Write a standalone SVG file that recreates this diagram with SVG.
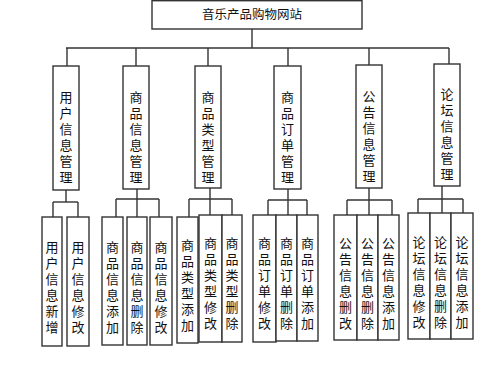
<svg xmlns="http://www.w3.org/2000/svg" width="500" height="381" viewBox="0 0 500 381">
<style>
rect{fill:#fff;stroke:#333;stroke-width:1.4}
.c line{stroke:#333;stroke-width:1.4}
text{font-family:"Noto Sans CJK SC","Noto Sans",sans-serif;font-size:13px;fill:#111}
.t{text-anchor:middle;font-size:12.5px}
.v{writing-mode:tb;letter-spacing:3px}
</style>
<rect x="0" y="0" width="500" height="381" style="stroke:none"/>
<g class="c" id="connectors">
<line x1="252" y1="29" x2="252" y2="48"/>
<line x1="66" y1="48" x2="449" y2="48"/>
<line x1="67" y1="48" x2="67" y2="66"/>
<line x1="136" y1="48" x2="136" y2="66"/>
<line x1="208" y1="48" x2="208" y2="66"/>
<line x1="288" y1="48" x2="288" y2="66"/>
<line x1="369" y1="48" x2="369" y2="65"/>
<line x1="449" y1="48" x2="449" y2="64"/>
<line x1="66" y1="190" x2="66" y2="202"/>
<line x1="53" y1="202" x2="78" y2="202"/>
<line x1="53" y1="202" x2="53" y2="217"/>
<line x1="78" y1="202" x2="78" y2="217"/>
<line x1="137" y1="189" x2="137" y2="217"/>
<line x1="116" y1="199" x2="159" y2="199"/>
<line x1="116" y1="199" x2="116" y2="217"/>
<line x1="159" y1="199" x2="159" y2="217"/>
<line x1="210" y1="188" x2="210" y2="215"/>
<line x1="189" y1="199" x2="232" y2="199"/>
<line x1="189" y1="199" x2="189" y2="217"/>
<line x1="232" y1="199" x2="232" y2="215"/>
<line x1="288" y1="189" x2="288" y2="215"/>
<line x1="268" y1="200" x2="307" y2="200"/>
<line x1="268" y1="200" x2="268" y2="215"/>
<line x1="307" y1="200" x2="307" y2="215"/>
<line x1="369" y1="188" x2="369" y2="215"/>
<line x1="347" y1="200" x2="392" y2="200"/>
<line x1="347" y1="200" x2="347" y2="215"/>
<line x1="392" y1="200" x2="392" y2="215"/>
<line x1="442" y1="186" x2="442" y2="213"/>
<line x1="418" y1="199" x2="463" y2="199"/>
<line x1="418" y1="199" x2="418" y2="213"/>
<line x1="463" y1="199" x2="463" y2="213"/>
</g>
<g id="root"><rect x="152" y="0.7" width="210" height="28.3"/><text class="t" x="252" y="19">音乐产品购物网站</text></g>
<g id="m1"><rect x="53" y="66" width="26" height="124"/><text class="v" x="66" y="90.5">用户信息管理</text></g>
<g id="m2"><rect x="123" y="66" width="26" height="123"/><text class="v" x="136" y="90.5">商品信息管理</text></g>
<g id="m3"><rect x="195" y="66" width="26" height="122"/><text class="v" x="208" y="90.5">商品类型管理</text></g>
<g id="m4"><rect x="274" y="66" width="27" height="123"/><text class="v" x="287.5" y="90.5">商品订单管理</text></g>
<g id="m5"><rect x="356" y="65" width="26" height="123"/><text class="v" x="369" y="89.5">公告信息管理</text></g>
<g id="m6"><rect x="434" y="64" width="26" height="122"/><text class="v" x="447" y="87.5">论坛信息管理</text></g>
<g id="b1a"><rect x="42" y="217" width="20" height="129"/><text class="v" x="52" y="240.5">用户信息新增</text></g>
<g id="b1b"><rect x="67" y="217" width="22" height="129"/><text class="v" x="78" y="240.5">用户信息修改</text></g>
<g id="b2a"><rect x="102" y="217" width="21" height="128"/><text class="v" x="112.5" y="240.5">商品信息添加</text></g>
<g id="b2b"><rect x="127" y="217" width="20" height="128"/><text class="v" x="137" y="240.5">商品信息删除</text></g>
<g id="b2c"><rect x="150" y="217" width="22" height="128"/><text class="v" x="161" y="240.5">商品信息修改</text></g>
<g id="b3a"><rect x="177" y="217" width="21" height="126"/><text class="v" x="187.5" y="238.5">商品类型添加</text></g>
<g id="b3b"><rect x="199" y="215" width="23" height="127"/><text class="v" x="210.5" y="236.5">商品类型修改</text></g>
<g id="b3c"><rect x="222" y="215" width="20" height="127"/><text class="v" x="232" y="236.5">商品类型删除</text></g>
<g id="b4a"><rect x="253" y="215" width="23" height="127"/><text class="v" x="264.5" y="236.5">商品订单修改</text></g>
<g id="b4b"><rect x="276" y="215" width="21" height="126"/><text class="v" x="286.5" y="236.5">商品订单删除</text></g>
<g id="b4c"><rect x="297" y="215" width="21" height="126"/><text class="v" x="307.5" y="236.5">商品订单添加</text></g>
<g id="b5a"><rect x="334" y="215" width="23" height="125"/><text class="v" x="345.5" y="236.5">公告信息删改</text></g>
<g id="b5b"><rect x="357" y="215" width="21" height="125"/><text class="v" x="367.5" y="236.5">公告信息删除</text></g>
<g id="b5c"><rect x="378" y="215" width="21" height="125"/><text class="v" x="388.5" y="236.5">公告信息添加</text></g>
<g id="b6a"><rect x="408" y="213" width="22" height="126"/><text class="v" x="419" y="235.5">论坛信息修改</text></g>
<g id="b6b"><rect x="430" y="213" width="21" height="126"/><text class="v" x="440.5" y="235.5">论坛信息删除</text></g>
<g id="b6c"><rect x="451" y="213" width="22" height="126"/><text class="v" x="462" y="235.5">论坛信息添加</text></g>
</svg>
